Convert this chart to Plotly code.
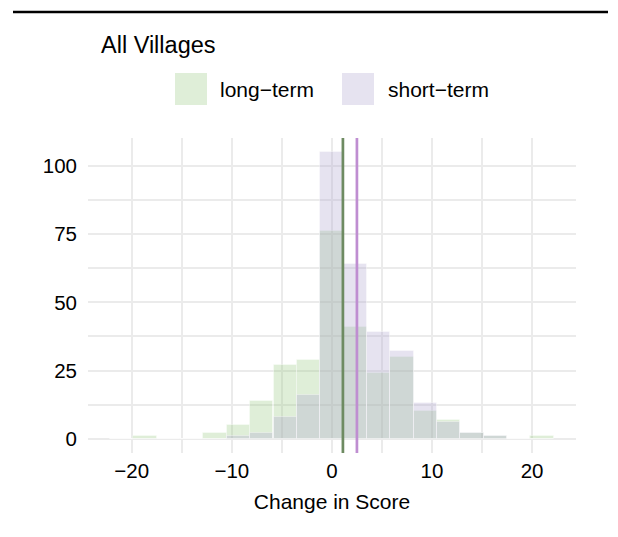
import plotly.graph_objects as go

# ---- data ----
bin_left = [-22.17, -19.83, -17.5, -15.17, -12.83, -10.5, -8.17, -5.83, -3.5,
            -1.17, 1.17, 3.5, 5.83, 8.17, 10.5, 12.83, 15.17, 17.5, 19.83]
bin_width = 2.333
long_term = [0, 1, 0, 0, 2, 5, 14, 27, 29, 76, 41, 24, 30, 10, 7, 2, 1, 0, 1]
short_term = [0, 0, 0, 0, 0, 1, 2, 8, 16, 105, 64, 39, 32, 13, 6, 2, 1, 0, 0]
mean_long = 1.1
mean_short = 2.5
x_ticks = [-20, -10, 0, 10, 20]
x_ticklabels = ["\u221220", "\u221210", "0", "10", "20"]
y_ticks = [0, 25, 50, 75, 100]
series_names = ["long\u2212term", "short\u2212term"]

# ---- styling ----
W, H = 618, 537
OFF = 8  # page body margin
ML, MT = 88 - OFF, 138 - OFF
MR = W - (576 - OFF)
MB = H - (453 - OFF)
PW, PH = W - ML - MR, H - MT - MB
FONT = "Liberation Sans, Arial, Helvetica, sans-serif"
GREEN_FILL = "rgba(148,198,125,0.30)"
PURPLE_FILL = "rgba(172,162,205,0.30)"
GREEN_LINE = "#6E8B62"
PURPLE_LINE = "#BF8ED1"
GRID = "#EBEBEB"


def px(xp):
    return (xp - OFF - ML) / PW


def py(yp):
    return (H - MB - (yp - OFF)) / PH


fig = go.Figure()
fig.add_trace(go.Bar(x=bin_left, y=long_term, width=bin_width, offset=0,
                     marker=dict(color=GREEN_FILL,
                                 line=dict(color="rgba(255,255,255,0.35)", width=1)),
                     name=series_names[0], showlegend=False))
fig.add_trace(go.Bar(x=bin_left, y=short_term, width=bin_width, offset=0,
                     marker=dict(color=PURPLE_FILL,
                                 line=dict(color="rgba(255,255,255,0.35)", width=1)),
                     name=series_names[1], showlegend=False))

shapes = [
    dict(type="line", xref="x", yref="paper", x0=mean_long, x1=mean_long, y0=0, y1=1,
         line=dict(color=GREEN_LINE, width=2.7)),
    dict(type="line", xref="x", yref="paper", x0=mean_short, x1=mean_short, y0=0, y1=1,
         line=dict(color=PURPLE_LINE, width=2.7)),
    # top rule
    dict(type="line", xref="paper", yref="paper", x0=px(13), x1=px(608), y0=py(12), y1=py(12),
         line=dict(color="black", width=2.5)),
    # legend keys
    dict(type="rect", xref="paper", yref="paper", x0=px(175), x1=px(207), y0=py(105), y1=py(73),
         fillcolor=GREEN_FILL, line=dict(width=0)),
    dict(type="rect", xref="paper", yref="paper", x0=px(342), x1=px(374), y0=py(105), y1=py(73),
         fillcolor=PURPLE_FILL, line=dict(width=0)),
]

annotations = [
    dict(text="All Villages", xref="paper", yref="paper", x=px(99), y=py(45),
         xanchor="left", yanchor="middle", showarrow=False,
         font=dict(size=23.5, color="black", family=FONT)),
    dict(text=series_names[0], xref="paper", yref="paper", x=px(218), y=py(89),
         xanchor="left", yanchor="middle", showarrow=False,
         font=dict(size=21, color="black", family=FONT)),
    dict(text=series_names[1], xref="paper", yref="paper", x=px(386), y=py(89),
         xanchor="left", yanchor="middle", showarrow=False,
         font=dict(size=21, color="black", family=FONT)),
]

fig.update_layout(
    width=W, height=H,
    margin=dict(l=ML, r=MR, t=MT, b=MB, pad=0),
    paper_bgcolor="white", plot_bgcolor="white",
    barmode="overlay", bargap=0,
    shapes=shapes, annotations=annotations,
    font=dict(family=FONT, color="black", size=21),
    xaxis=dict(range=[-24.37, 24.39], tickvals=x_ticks, ticktext=x_ticklabels,
               showgrid=True, gridcolor=GRID, gridwidth=2, zeroline=False,
               showline=False, ticks="", ticklabelstandoff=3,
               minor=dict(dtick=5, tick0=0, showgrid=True, gridcolor=GRID, gridwidth=2),
               tickfont=dict(size=20.5, color="black"),
               title=dict(text="Change in Score", font=dict(size=21, color="black"), standoff=13)),
    yaxis=dict(range=[-5.25, 110.25], tickvals=y_ticks,
               showgrid=True, gridcolor=GRID, gridwidth=2, zeroline=False,
               showline=False, ticks="", ticklabelstandoff=10,
               minor=dict(dtick=12.5, tick0=0, showgrid=True, gridcolor=GRID, gridwidth=2),
               tickfont=dict(size=20.5, color="black")),
)

fig.write_html("out.html")
